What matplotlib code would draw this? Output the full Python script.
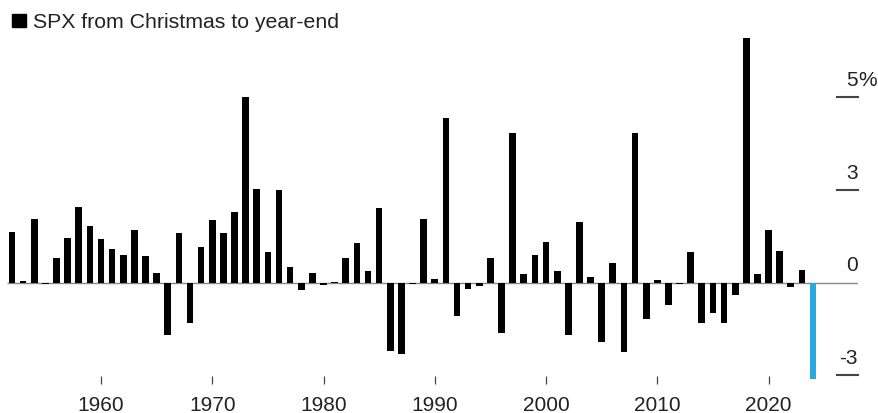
import numpy as np
import matplotlib
matplotlib.use('Agg')
import matplotlib.pyplot as plt
import matplotlib.transforms as mtransforms
from matplotlib.patches import Rectangle

# SPX change from Christmas to year-end, percent
years = list(range(1952, 2025))
values = [1.65, 0.07, 2.06, -0.03, 0.80, 1.44, 2.44, 1.83, 1.42, 1.10,
          0.91, 1.71, 0.86, 0.32, -1.68, 1.60, -1.32, 1.17, 2.04, 1.61,
          2.30, 6.02, 3.03, 0.99, 3.01, 0.52, -0.23, 0.32, -0.09, 0.02,
          0.81, 1.28, 0.37, 2.41, -2.21, -2.32, -0.03, 2.06, 0.13, 5.34,
          -1.08, -0.22, -0.12, 0.80, -1.62, 4.86, 0.29, 0.90, 1.33, 0.38,
          -1.68, 1.96, 0.18, -1.91, 0.65, -2.24, 4.84, -1.19, 0.10, -0.71,
          -0.03, 0.99, -1.30, -0.97, -1.29, -0.41, 7.92, 0.28, 1.72, 1.02,
          -0.14, 0.40, -3.12]
highlight_year = 2024

x_ticks = [1960, 1970, 1980, 1990, 2000, 2010, 2020]
y_ticks = [6, 3, 0, -3]
y_tick_labels = ['5', '3', '0', '-3']

BLACK = '#000000'
BLUE = '#2AA8E0'
TEXT = '#222222'
GREY = '#888888'

plt.rcParams['font.family'] = ['Liberation Sans', 'DejaVu Sans']

W, H = 879, 414
fig = plt.figure(figsize=(W / 100, H / 100), dpi=100)
ax = fig.add_axes([0.0, 29 / H, 858 / W, 385 / H])

colors = [BLUE if y == highlight_year else BLACK for y in years]
ax.bar(years, values, width=0.6, color=colors, zorder=3)

# zero line
ax.hlines(0, 1951.55, 2028.1, color=GREY, lw=1.0, zorder=2)

ax.set_xlim(1950.92, 2028.04)
ax.set_ylim(-3.278, 9.18)

for s in ax.spines.values():
    s.set_visible(False)

ax.set_xticks(x_ticks)
ax.set_xticklabels([str(x) for x in x_ticks])
ax.tick_params(axis='x', direction='in', length=6, width=0.9, color='#444444',
               labelsize=15, labelcolor=TEXT, pad=8)
ax.set_yticks([])

# right-hand value ticks: short dash with the label sitting above it
trans = mtransforms.blended_transform_factory(ax.transAxes, ax.transData)
for val, lab in zip(y_ticks, y_tick_labels):
    if val != 0:
        ax.plot([0.976, 1.0], [val, val], transform=trans, color='#444444',
                lw=1.5, clip_on=False)
    ax.annotate(lab, xy=(1.0, val), xycoords=trans, xytext=(0, 6),
                textcoords='offset points', ha='right', va='bottom',
                fontsize=15, color=TEXT, annotation_clip=False)
    if lab == '5':
        ax.annotate('%', xy=(1.0, val), xycoords=trans, xytext=(0.3, 6),
                    textcoords='offset points', ha='left', va='bottom',
                    fontsize=15, color=TEXT, annotation_clip=False)

# legend key square + title
fig.patches.append(Rectangle((12 / W, 1 - 28 / H), 14 / W, 13 / H,
                             transform=fig.transFigure, color=BLACK))
fig.text(33 / W, 1 - 22 / H, 'SPX from Christmas to year-end',
         fontsize=15.3, color=TEXT, va='center', ha='left')

fig.savefig('out.png', dpi=100, facecolor='white')
